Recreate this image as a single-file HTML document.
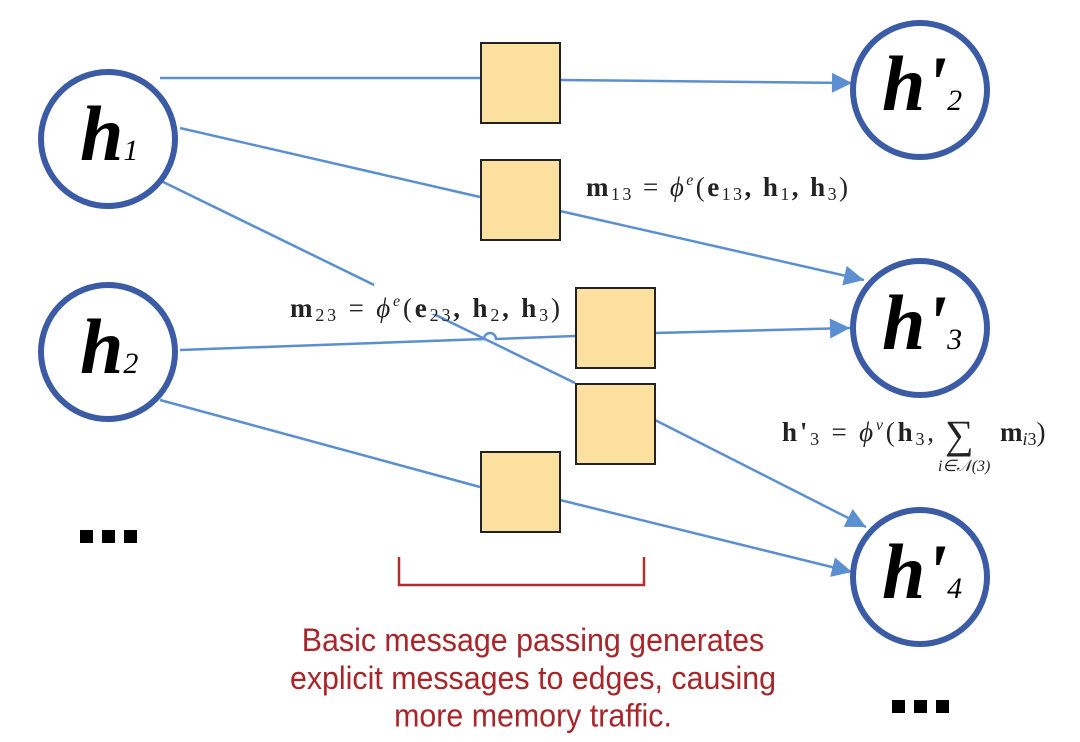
<!DOCTYPE html>
<html><head><meta charset="utf-8"><style>
html,body{margin:0;padding:0;background:#fff;}
svg{display:block;}
.f{font-family:"Liberation Serif",serif;font-weight:bold;font-size:27px;fill:#222;}
.n{font-family:"Liberation Serif",serif;font-weight:bold;font-style:italic;fill:#000;}
.r{font-family:"Liberation Sans",sans-serif;font-size:31px;fill:#a8262a;}
</style></head><body>
<svg width="1080" height="742" viewBox="0 0 1080 742" xmlns="http://www.w3.org/2000/svg">
<defs>
<marker id="A" viewBox="0 0 10 10" refX="10" refY="5" markerWidth="24" markerHeight="20" orient="auto" markerUnits="userSpaceOnUse"><path d="M0,0 L10,5 L0,10 z" fill="#5b8fd0"/></marker>
</defs>
<g stroke="#5b8fd0" stroke-width="2.5" fill="none">
<line x1="160" y1="78" x2="480" y2="78"/>
<line x1="560" y1="80" x2="852" y2="83" marker-end="url(#A)"/>
<line x1="180" y1="128" x2="480" y2="197"/>
<line x1="560" y1="211" x2="864" y2="280" marker-end="url(#A)"/>
<line x1="155" y1="178" x2="575" y2="383"/>
<path d="M180,350 L484,339 A6,6 0 0 1 496,339 L575,336"/>
<line x1="655" y1="333" x2="850" y2="328" marker-end="url(#A)"/>
<line x1="160" y1="400" x2="480" y2="487"/>
<line x1="560" y1="500" x2="852" y2="572" marker-end="url(#A)"/>
<line x1="655" y1="420" x2="866" y2="527" marker-end="url(#A)"/>
</g>
<rect x="374" y="284" width="96" height="30" fill="#fff"/>
<g fill="#fbe0a0" stroke="#222" stroke-width="2">
<rect x="481" y="43" width="79" height="80"/>
<rect x="481" y="160" width="79" height="80"/>
<rect x="576" y="288" width="79" height="80"/>
<rect x="576" y="384" width="79" height="80"/>
<rect x="481" y="452" width="79" height="80"/>
</g>
<g fill="#fff" stroke="#3b5ba5" stroke-width="6">
<circle cx="108" cy="139" r="67"/>
<circle cx="108" cy="352" r="67"/>
<circle cx="920" cy="90" r="67"/>
<circle cx="920" cy="328" r="67"/>
<circle cx="920" cy="577" r="67"/>
</g>
<text class="n" x="80" y="160" font-size="78">h<tspan font-size="30" font-weight="normal">1</tspan></text>
<text class="n" x="80" y="373" font-size="78">h<tspan font-size="30" font-weight="normal">2</tspan></text>
<text class="n" x="882" y="110" font-size="78">h'<tspan font-size="30" font-weight="normal">2</tspan></text>
<text class="n" x="882" y="349" font-size="78">h'<tspan font-size="30" font-weight="normal">3</tspan></text>
<text class="n" x="882" y="598" font-size="78">h'<tspan font-size="30" font-weight="normal">4</tspan></text>
<text class="f" x="586" y="196" textLength="262" lengthAdjust="spacing">m<tspan font-size="18" dy="4" font-weight="normal">13</tspan><tspan dy="-4" font-weight="normal"> = </tspan><tspan font-style="italic" font-weight="normal">ϕ</tspan><tspan font-size="16" dy="-11" font-style="italic" font-weight="normal">e</tspan><tspan dy="11" font-weight="normal">(</tspan>e<tspan font-size="18" dy="4" font-weight="normal">13</tspan><tspan dy="-4">, h</tspan><tspan font-size="18" dy="4" font-weight="normal">1</tspan><tspan dy="-4">, h</tspan><tspan font-size="18" dy="4" font-weight="normal">3</tspan><tspan dy="-4" font-weight="normal">)</tspan></text>
<text class="f" x="290" y="317" textLength="270" lengthAdjust="spacing">m<tspan font-size="18" dy="4" font-weight="normal">23</tspan><tspan dy="-4" font-weight="normal"> = </tspan><tspan font-style="italic" font-weight="normal">ϕ</tspan><tspan font-size="16" dy="-11" font-style="italic" font-weight="normal">e</tspan><tspan dy="11" font-weight="normal">(</tspan>e<tspan font-size="18" dy="4" font-weight="normal">23</tspan><tspan dy="-4">, h</tspan><tspan font-size="18" dy="4" font-weight="normal">2</tspan><tspan dy="-4">, h</tspan><tspan font-size="18" dy="4" font-weight="normal">3</tspan><tspan dy="-4" font-weight="normal">)</tspan></text>
<text class="f" x="782" y="441" textLength="152" lengthAdjust="spacing">h'<tspan font-size="18" dy="4" font-weight="normal">3</tspan><tspan dy="-4" font-weight="normal"> = </tspan><tspan font-style="italic" font-weight="normal">ϕ</tspan><tspan font-size="16" dy="-11" font-style="italic" font-weight="normal">v</tspan><tspan dy="11" font-weight="normal">(</tspan>h<tspan font-size="18" dy="4" font-weight="normal">3</tspan><tspan dy="-4" font-weight="normal">,</tspan></text>
<text x="945" y="448" font-family="Liberation Serif,serif" font-size="40" fill="#222">∑</text>
<text class="f" x="1000" y="441">m<tspan font-size="18" dy="4" font-weight="normal" font-style="italic">i</tspan><tspan font-size="18" font-weight="normal">3</tspan><tspan dy="-4" font-weight="normal">)</tspan></text>
<text x="938" y="471" font-family="Liberation Serif,serif" font-size="16" font-style="italic" fill="#222">i∈𝒩(3)</text>
<g fill="#000">
<rect x="80" y="530" width="13" height="13"/><rect x="102" y="530" width="13" height="13"/><rect x="124" y="530" width="13" height="13"/>
<rect x="892" y="700" width="13" height="13"/><rect x="914" y="700" width="13" height="13"/><rect x="936" y="700" width="13" height="13"/>
</g>
<path d="M399,557 L399,585 L644,585 L644,557" fill="none" stroke="#b03030" stroke-width="2.5"/>
<g transform="translate(533,0) scale(0.98,1.05)">
<text class="r" x="0" y="620" text-anchor="middle">Basic message passing generates</text>
<text class="r" x="0" y="656" text-anchor="middle">explicit messages to edges, causing</text>
<text class="r" x="0" y="692" text-anchor="middle">more memory traffic.</text>
</g>
</svg>
</body></html>
